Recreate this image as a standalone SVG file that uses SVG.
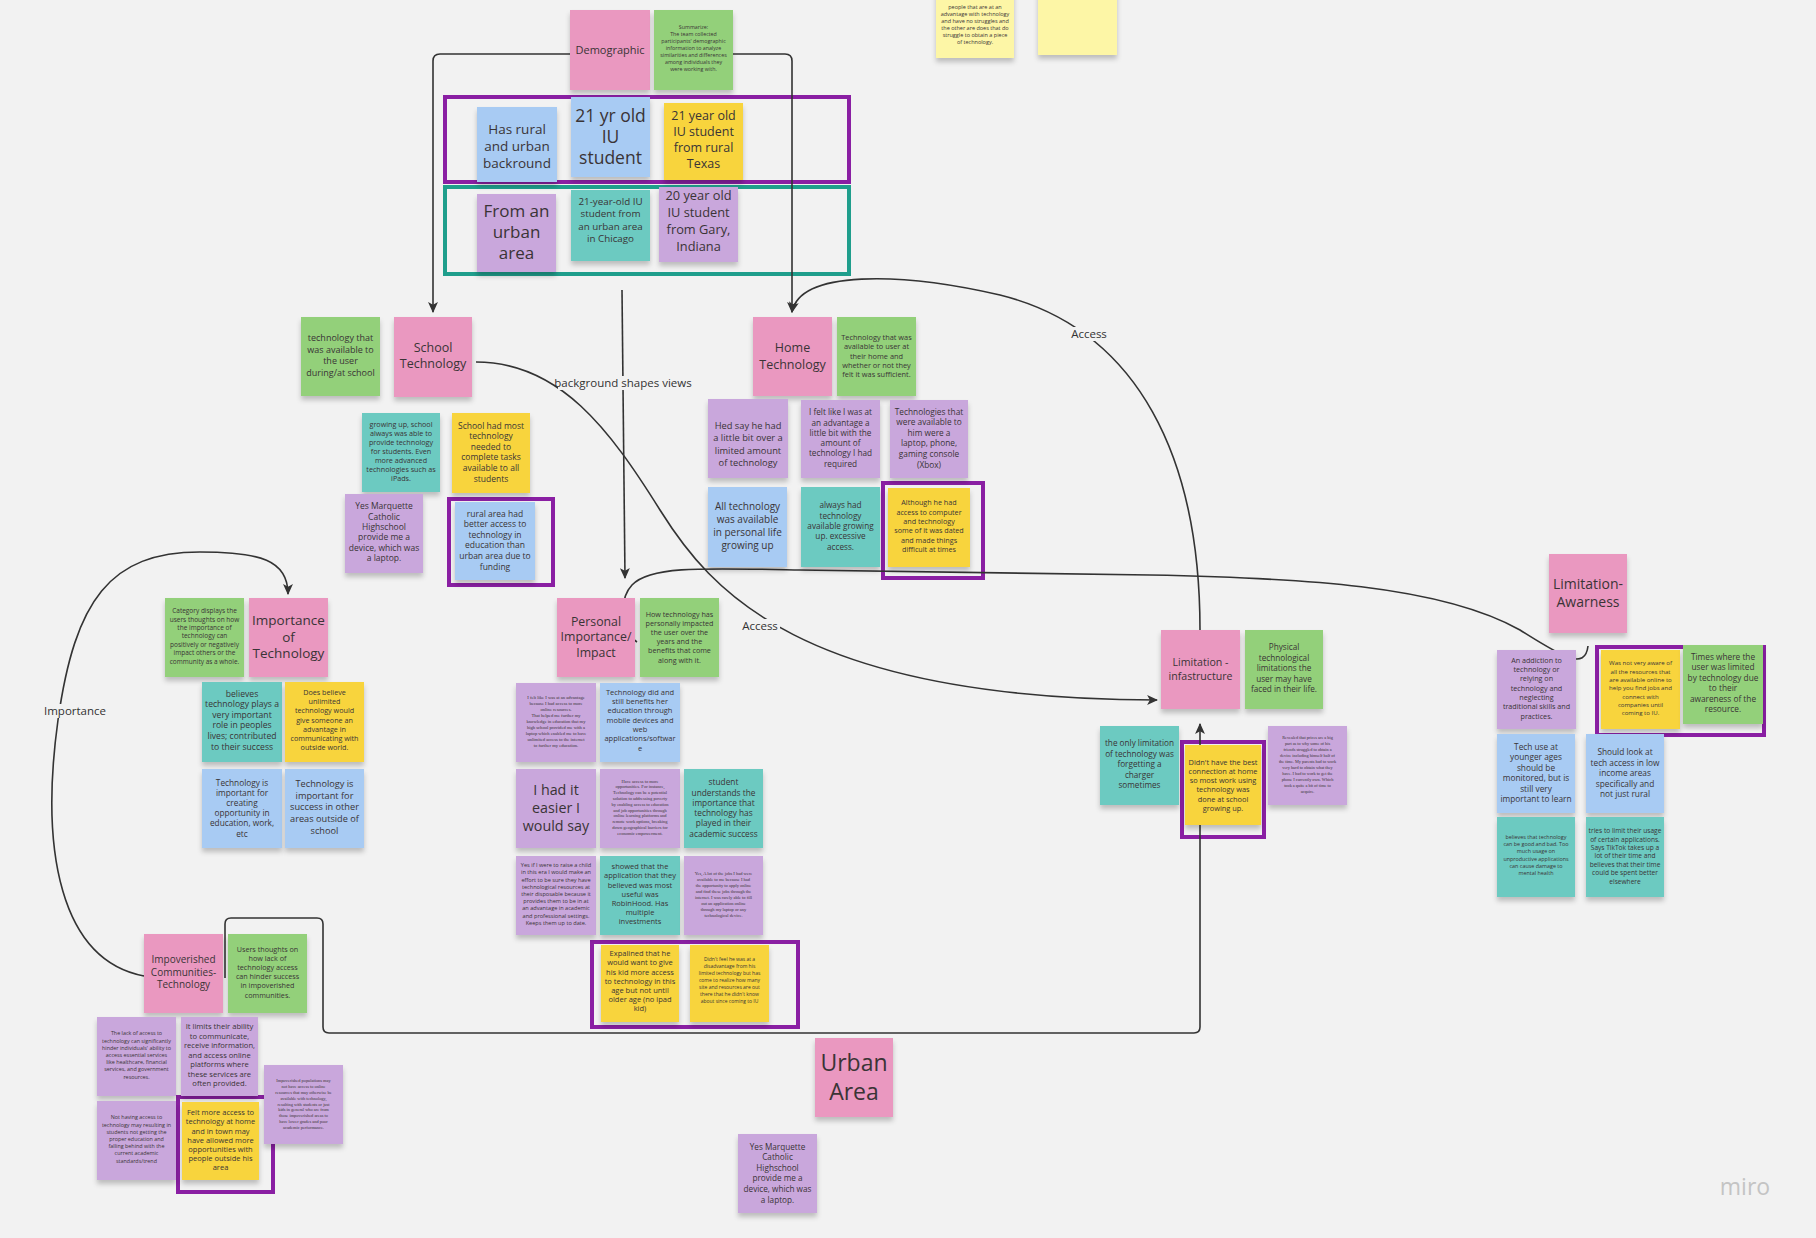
<svg xmlns="http://www.w3.org/2000/svg" width="1816" height="1238" viewBox="0 0 1816 1238">
<style>
.n{filter:url(#sh)}
.pk{fill:#ea98c0}.gr{fill:#93d07a}.bl{fill:#a8cbf3}.ye{fill:#f8d43c}.pu{fill:#c9a7dc}.te{fill:#6ccac1}.ly{fill:#fdf6a6}
text{font-family:"Open Sans","Noto Sans","Liberation Sans",sans-serif;fill:#3a3436;text-anchor:middle}
.sf{font-family:"Liberation Serif","DejaVu Serif",serif}
.fr{fill:none;stroke-width:4}
.fp{stroke:#8a1fa3}.ft{stroke:#1f9e8c}
.c{fill:none;stroke:#333;stroke-width:1.6}
.lb{font-size:11.5px;fill:#333}
.lbg{fill:#f2f2f2}
</style>
<defs>
<filter id="sh" x="-10%" y="-10%" width="120%" height="130%"><feDropShadow dx="0" dy="4" stdDeviation="2.5" flood-color="#000" flood-opacity="0.22"/></filter>
<marker id="ah" viewBox="0 0 10 10" refX="9" refY="5" markerWidth="11" markerHeight="11" markerUnits="userSpaceOnUse" orient="auto"><path d="M0,0.5 L10,5 L0,9.5 L2.5,5 z" fill="#333"/></marker>
</defs>
<rect width="1816" height="1238" fill="#f2f2f2"/>

<g id="frames">
<rect class="fr fp" x="445" y="97" width="404" height="85"/>
<rect class="fr ft" x="445" y="187" width="404" height="87"/>
<rect class="fr fp" x="449" y="499" width="104" height="86"/>
<rect class="fr fp" x="883" y="483" width="100" height="95"/>
<rect class="fr fp" x="592" y="942" width="206" height="85"/>
<rect class="fr fp" x="178" y="1097" width="95" height="95"/>
<rect class="fr fp" x="1182" y="742" width="82" height="95"/>
<rect class="fr fp" x="1597" y="647" width="167" height="88"/>
</g>

<g id="connectors">
<path class="c" d="M570,54 L440,54 Q433,54 433,61 L433,312" marker-end="url(#ah)"/>
<path class="c" d="M733,54 L785,54 Q792,54 792,61 L792,312" marker-end="url(#ah)"/>
<path class="c" d="M622,290 L625,578" marker-end="url(#ah)"/>
<path class="c" d="M476,362 C560,362 610,430 660,510 C710,590 800,699 1157,700" marker-end="url(#ah)"/>
<path class="c" d="M1200,630 C1200,460 1140,330 1000,295 C900,272 800,270 792,312" marker-end="url(#ah)"/>
<path class="c" d="M637,642 C622,632 618,600 632,585 C650,566 700,568 800,570 L1150,575 C1300,578 1440,585 1520,630 C1560,655 1585,672 1588,646"/>
<path class="c" d="M144,976 C60,960 40,850 58,720 C75,600 110,552 200,552 C260,552 288,560 288,594" marker-end="url(#ah)"/>
<path class="c" d="M225,978 L225,924 Q225,918 231,918 L317,918 Q323,918 323,924 L323,1027 Q323,1033 329,1033 L1194,1033 Q1200,1033 1200,1027 L1200,724" marker-end="url(#ah)"/>
<rect class="lbg" x="558" y="376" width="132" height="14"/>
<text class="lb" x="623" y="387">background shapes views</text>
<rect class="lbg" x="740" y="619" width="40" height="14"/>
<text class="lb" x="760" y="630">Access</text>
<rect class="lbg" x="1069" y="327" width="40" height="14"/>
<text class="lb" x="1089" y="338">Access</text>
<rect class="lbg" x="43" y="704" width="64" height="14"/>
<text class="lb" x="75" y="715">Importance</text>
</g>

<g id="demographic"><rect class="n pk" x="570" y="10" width="80" height="80"/><text x="610" y="54" font-size="11">Demographic</text></g>
<g id="demographic-summary"><rect class="n gr" x="654" y="10" width="79" height="80"/><text font-size="5.3"><tspan x="693.5" y="28.9">Summarize:</tspan><tspan x="693.5" dy="7">The team collected</tspan><tspan x="693.5" dy="7">participants' demographic</tspan><tspan x="693.5" dy="7">information to analyze</tspan><tspan x="693.5" dy="7">similarities and differences</tspan><tspan x="693.5" dy="7">among individuals they</tspan><tspan x="693.5" dy="7">were working with.</tspan></text></g>
<g id="rural-urban"><rect class="n bl" x="477" y="107" width="80" height="75"/><text font-size="13.5"><tspan x="517" y="133.9">Has rural</tspan><tspan x="517" dy="17">and urban</tspan><tspan x="517" dy="17">backround</tspan></text></g>
<g id="iu-21"><rect class="n bl" x="571" y="97" width="79" height="80"/><text font-size="17.5"><tspan x="610.5" y="122.3">21 yr old</tspan><tspan x="610.5" dy="21">IU</tspan><tspan x="610.5" dy="21">student</tspan></text></g>
<g id="texas"><rect class="n ye" x="664" y="103" width="79" height="77"/><text font-size="12.5"><tspan x="703.5" y="120.4">21 year old</tspan><tspan x="703.5" dy="16">IU student</tspan><tspan x="703.5" dy="16">from rural</tspan><tspan x="703.5" dy="16">Texas</tspan></text></g>
<g id="urban-area-note"><rect class="n pu" x="477" y="194" width="79" height="78"/><text font-size="17"><tspan x="516.5" y="217">From an</tspan><tspan x="516.5" dy="21">urban</tspan><tspan x="516.5" dy="21">area</tspan></text></g>
<g id="chicago"><rect class="n te" x="571" y="190" width="79" height="71"/><text font-size="9.8"><tspan x="610.5" y="204.5">21-year-old IU</tspan><tspan x="610.5" dy="12.6">student from</tspan><tspan x="610.5" dy="12.6">an urban area</tspan><tspan x="610.5" dy="12.6">in Chicago</tspan></text></g>
<g id="gary"><rect class="n pu" x="659" y="187" width="79" height="75"/><text font-size="12.8"><tspan x="698.5" y="200.3">20 year old</tspan><tspan x="698.5" dy="16.8">IU student</tspan><tspan x="698.5" dy="16.8">from Gary,</tspan><tspan x="698.5" dy="16.8">Indiana</tspan></text></g>

<g id="top-note-1"><rect class="n ly" x="936" y="-22" width="78" height="80"/><text font-size="5.5"><tspan x="975" y="9">people that are at an</tspan><tspan x="975" dy="7">advantage with technology</tspan><tspan x="975" dy="7">and have no struggles and</tspan><tspan x="975" dy="7">the other are does that do</tspan><tspan x="975" dy="7">struggle to obtain a piece</tspan><tspan x="975" dy="7">of technology.</tspan></text></g>
<g id="top-note-2"><rect class="n ly" x="1038" y="-25" width="79" height="80"/></g>

<g id="school-desc"><rect class="n gr" x="301" y="317" width="79" height="79"/><text font-size="9"><tspan x="340.5" y="340.8">technology that</tspan><tspan x="340.5" dy="11.7">was available to</tspan><tspan x="340.5" dy="11.7">the user</tspan><tspan x="340.5" dy="11.7">during/at school</tspan></text></g>
<g id="school-technology"><rect class="n pk" x="394" y="317" width="78" height="80"/><text font-size="12.5"><tspan x="433" y="352.4">School</tspan><tspan x="433" dy="16">Technology</tspan></text></g>
<g id="school-1"><rect class="n te" x="362" y="413" width="78" height="79"/><text font-size="7.2"><tspan x="401" y="426.6">growing up, school</tspan><tspan x="401" dy="9">always was able to</tspan><tspan x="401" dy="9">provide technology</tspan><tspan x="401" dy="9">for students. Even</tspan><tspan x="401" dy="9">more advanced</tspan><tspan x="401" dy="9">technologies such as</tspan><tspan x="401" dy="9">iPads.</tspan></text></g>
<g id="school-2"><rect class="n ye" x="452" y="413" width="78" height="80"/><text font-size="8.5"><tspan x="491" y="428.6">School had most</tspan><tspan x="491" dy="10.6">technology</tspan><tspan x="491" dy="10.6">needed to</tspan><tspan x="491" dy="10.6">complete tasks</tspan><tspan x="491" dy="10.6">available to all</tspan><tspan x="491" dy="10.6">students</tspan></text></g>
<g id="school-3"><rect class="n pu" x="345" y="494" width="78" height="79"/><text font-size="8.5"><tspan x="384" y="509.1">Yes Marquette</tspan><tspan x="384" dy="10.4">Catholic</tspan><tspan x="384" dy="10.4">Highschool</tspan><tspan x="384" dy="10.4">provide me a</tspan><tspan x="384" dy="10.4">device, which was</tspan><tspan x="384" dy="10.4">a laptop.</tspan></text></g>
<g id="school-4"><rect class="n bl" x="455" y="502" width="80" height="78"/><text font-size="8.5"><tspan x="495" y="516.6">rural area had</tspan><tspan x="495" dy="10.6">better access to</tspan><tspan x="495" dy="10.6">technology in</tspan><tspan x="495" dy="10.6">education than</tspan><tspan x="495" dy="10.6">urban area due to</tspan><tspan x="495" dy="10.6">funding</tspan></text></g>

<g id="home-technology"><rect class="n pk" x="753" y="317" width="79" height="79"/><text font-size="12.5"><tspan x="792.5" y="352.1">Home</tspan><tspan x="792.5" dy="16.5">Technology</tspan></text></g>
<g id="home-desc"><rect class="n gr" x="837" y="317" width="79" height="79"/><text font-size="7.4"><tspan x="876.5" y="340.1">Technology that was</tspan><tspan x="876.5" dy="9.3">available to user at</tspan><tspan x="876.5" dy="9.3">their home and</tspan><tspan x="876.5" dy="9.3">whether or not they</tspan><tspan x="876.5" dy="9.3">felt it was sufficient.</tspan></text></g>
<g id="home-1"><rect class="n pu" x="708" y="399" width="80" height="79"/><text font-size="9.3"><tspan x="748" y="428.9">Hed say he had</tspan><tspan x="748" dy="12.3">a little bit over a</tspan><tspan x="748" dy="12.3">limited amount</tspan><tspan x="748" dy="12.3">of technology</tspan></text></g>
<g id="home-2"><rect class="n pu" x="801" y="400" width="79" height="78"/><text font-size="8.2"><tspan x="840.5" y="415.2">I felt like I was at</tspan><tspan x="840.5" dy="10.3">an advantage a</tspan><tspan x="840.5" dy="10.3">little bit with the</tspan><tspan x="840.5" dy="10.3">amount of</tspan><tspan x="840.5" dy="10.3">technology I had</tspan><tspan x="840.5" dy="10.3">required</tspan></text></g>
<g id="home-3"><rect class="n pu" x="890" y="400" width="78" height="78"/><text font-size="8.3"><tspan x="929" y="414.5">Technologies that</tspan><tspan x="929" dy="10.6">were available to</tspan><tspan x="929" dy="10.6">him were a</tspan><tspan x="929" dy="10.6">laptop, phone,</tspan><tspan x="929" dy="10.6">gaming console</tspan><tspan x="929" dy="10.6">(Xbox)</tspan></text></g>
<g id="home-4"><rect class="n bl" x="708" y="487" width="79" height="80"/><text font-size="10"><tspan x="747.5" y="510.4">All technology</tspan><tspan x="747.5" dy="12.7">was available</tspan><tspan x="747.5" dy="12.7">in personal life</tspan><tspan x="747.5" dy="12.7">growing up</tspan></text></g>
<g id="home-5"><rect class="n te" x="801" y="487" width="79" height="80"/><text font-size="8.2"><tspan x="840.5" y="508.2">always had</tspan><tspan x="840.5" dy="10.4">technology</tspan><tspan x="840.5" dy="10.4">available growing</tspan><tspan x="840.5" dy="10.4">up. excessive</tspan><tspan x="840.5" dy="10.4">access.</tspan></text></g>
<g id="home-6"><rect class="n ye" x="888" y="488" width="82" height="79"/><text font-size="7.2"><tspan x="929" y="505.4">Although he had</tspan><tspan x="929" dy="9.3">access to computer</tspan><tspan x="929" dy="9.3">and technology</tspan><tspan x="929" dy="9.3">some of it was dated</tspan><tspan x="929" dy="9.3">and made things</tspan><tspan x="929" dy="9.3">difficult at times</tspan></text></g>

<g id="importance-desc"><rect class="n gr" x="165" y="598" width="79" height="79"/><text font-size="6.5"><tspan x="204.5" y="613.2">Category displays the</tspan><tspan x="204.5" dy="8.4">users thoughts on how</tspan><tspan x="204.5" dy="8.4">the importance of</tspan><tspan x="204.5" dy="8.4">technology can</tspan><tspan x="204.5" dy="8.4">positively or negatively</tspan><tspan x="204.5" dy="8.4">impact others or the</tspan><tspan x="204.5" dy="8.4">community as a whole.</tspan></text></g>
<g id="importance-of-technology"><rect class="n pk" x="249" y="598" width="79" height="79"/><text font-size="13.5"><tspan x="288.5" y="625.1">Importance</tspan><tspan x="288.5" dy="16.6">of</tspan><tspan x="288.5" dy="16.6">Technology</tspan></text></g>
<g id="imp-1"><rect class="n te" x="202" y="682" width="80" height="80"/><text font-size="8.6"><tspan x="242" y="696.6">believes</tspan><tspan x="242" dy="10.6">technology plays a</tspan><tspan x="242" dy="10.6">very important</tspan><tspan x="242" dy="10.6">role in peoples</tspan><tspan x="242" dy="10.6">lives; contributed</tspan><tspan x="242" dy="10.6">to their success</tspan></text></g>
<g id="imp-2"><rect class="n ye" x="285" y="682" width="79" height="80"/><text font-size="7.2"><tspan x="324.5" y="695">Does believe</tspan><tspan x="324.5" dy="9.2">unlimited</tspan><tspan x="324.5" dy="9.2">technology would</tspan><tspan x="324.5" dy="9.2">give someone an</tspan><tspan x="324.5" dy="9.2">advantage in</tspan><tspan x="324.5" dy="9.2">communicating with</tspan><tspan x="324.5" dy="9.2">outside world.</tspan></text></g>
<g id="imp-3"><rect class="n bl" x="202" y="769" width="80" height="79"/><text font-size="8.3"><tspan x="242" y="785.5">Technology is</tspan><tspan x="242" dy="10.2">important for</tspan><tspan x="242" dy="10.2">creating</tspan><tspan x="242" dy="10.2">opportunity in</tspan><tspan x="242" dy="10.2">education, work,</tspan><tspan x="242" dy="10.2">etc</tspan></text></g>
<g id="imp-4"><rect class="n bl" x="285" y="769" width="79" height="79"/><text font-size="9.2"><tspan x="324.5" y="787">Technology is</tspan><tspan x="324.5" dy="11.7">important for</tspan><tspan x="324.5" dy="11.7">success in other</tspan><tspan x="324.5" dy="11.7">areas outside of</tspan><tspan x="324.5" dy="11.7">school</tspan></text></g>

<g id="personal-importance"><rect class="n pk" x="557" y="598" width="78" height="79"/><text font-size="12.3"><tspan x="596" y="626">Personal</tspan><tspan x="596" dy="15.3">Importance/</tspan><tspan x="596" dy="15.3">Impact</tspan></text></g>
<g id="personal-desc"><rect class="n gr" x="640" y="598" width="79" height="79"/><text font-size="7.2"><tspan x="679.5" y="616.6">How technology has</tspan><tspan x="679.5" dy="9.2">personally impacted</tspan><tspan x="679.5" dy="9.2">the user over the</tspan><tspan x="679.5" dy="9.2">years and the</tspan><tspan x="679.5" dy="9.2">benefits that come</tspan><tspan x="679.5" dy="9.2">along with it.</tspan></text></g>
<g id="pers-1"><rect class="n pu" x="516" y="683" width="80" height="79"/><text class="sf" font-size="4.6"><tspan x="556" y="698.6">I felt like I was at an advantage</tspan><tspan x="556" dy="6">because I had access to more</tspan><tspan x="556" dy="6">online resources.</tspan><tspan x="556" dy="6">That helped me further my</tspan><tspan x="556" dy="6">knowledge in education that my</tspan><tspan x="556" dy="6">high school provided me with a</tspan><tspan x="556" dy="6">laptop which enabled me to have</tspan><tspan x="556" dy="6">unlimited access to the internet</tspan><tspan x="556" dy="6">to further my education.</tspan></text></g>
<g id="pers-2"><rect class="n bl" x="600" y="683" width="80" height="79"/><text font-size="7.5"><tspan x="640" y="694.8">Technology did and</tspan><tspan x="640" dy="9.3">still benefits her</tspan><tspan x="640" dy="9.3">education through</tspan><tspan x="640" dy="9.3">mobile devices and</tspan><tspan x="640" dy="9.3">web</tspan><tspan x="640" dy="9.3">applications/softwar</tspan><tspan x="640" dy="9.3">e</tspan></text></g>
<g id="pers-3"><rect class="n pu" x="516" y="769" width="80" height="79"/><text font-size="14.3"><tspan x="556" y="794.7">I had it</tspan><tspan x="556" dy="18.3">easier I</tspan><tspan x="556" dy="18.3">would say</tspan></text></g>
<g id="pers-4"><rect class="n pu" x="600" y="769" width="80" height="79"/><text class="sf" font-size="4.5"><tspan x="640" y="782.5">Have access to more</tspan><tspan x="640" dy="5.8">opportunities. For instance,</tspan><tspan x="640" dy="5.8">Technology can be a potential</tspan><tspan x="640" dy="5.8">solution to addressing poverty</tspan><tspan x="640" dy="5.8">by enabling access to education</tspan><tspan x="640" dy="5.8">and job opportunities through</tspan><tspan x="640" dy="5.8">online learning platforms and</tspan><tspan x="640" dy="5.8">remote work options, breaking</tspan><tspan x="640" dy="5.8">down geographical barriers for</tspan><tspan x="640" dy="5.8">economic empowerment.</tspan></text></g>
<g id="pers-5"><rect class="n te" x="684" y="769" width="79" height="79"/><text font-size="8.3"><tspan x="723.5" y="785.2">student</tspan><tspan x="723.5" dy="10.3">understands the</tspan><tspan x="723.5" dy="10.3">importance that</tspan><tspan x="723.5" dy="10.3">technology has</tspan><tspan x="723.5" dy="10.3">played in their</tspan><tspan x="723.5" dy="10.3">academic success</tspan></text></g>
<g id="pers-6"><rect class="n pu" x="516" y="856" width="80" height="79"/><text font-size="5.6"><tspan x="556" y="867.2">Yes if I were to raise a child</tspan><tspan x="556" dy="7.2">in this era I would make an</tspan><tspan x="556" dy="7.2">effort to be sure they have</tspan><tspan x="556" dy="7.2">technological resources at</tspan><tspan x="556" dy="7.2">their disposable because it</tspan><tspan x="556" dy="7.2">provides them to be in at</tspan><tspan x="556" dy="7.2">an advantage in academic</tspan><tspan x="556" dy="7.2">and professional settings.</tspan><tspan x="556" dy="7.2">Keeps them up to date.</tspan></text></g>
<g id="pers-7"><rect class="n te" x="600" y="856" width="80" height="79"/><text font-size="7.5"><tspan x="640" y="869.1">showed that the</tspan><tspan x="640" dy="9.2">application that they</tspan><tspan x="640" dy="9.2">believed was most</tspan><tspan x="640" dy="9.2">useful was</tspan><tspan x="640" dy="9.2">RobinHood. Has</tspan><tspan x="640" dy="9.2">multiple</tspan><tspan x="640" dy="9.2">investments</tspan></text></g>
<g id="pers-8"><rect class="n pu" x="684" y="856" width="79" height="79"/><text class="sf" font-size="4.5"><tspan x="723.5" y="874.6">Yes,  A lot of the jobs I had were</tspan><tspan x="723.5" dy="6">available to me because I had</tspan><tspan x="723.5" dy="6">the opportunity to apply online</tspan><tspan x="723.5" dy="6">and find these jobs through the</tspan><tspan x="723.5" dy="6">internet. I was rarely able to fill</tspan><tspan x="723.5" dy="6">out an application online</tspan><tspan x="723.5" dy="6">through my laptop or any</tspan><tspan x="723.5" dy="6">technological device.</tspan></text></g>
<g id="pers-9"><rect class="n ye" x="601" y="945" width="78" height="77"/><text font-size="7.5"><tspan x="640" y="956.1">Expalined that he</tspan><tspan x="640" dy="9.2">would want to give</tspan><tspan x="640" dy="9.2">his kid more access</tspan><tspan x="640" dy="9.2">to technology in this</tspan><tspan x="640" dy="9.2">age but not until</tspan><tspan x="640" dy="9.2">older age (no ipad</tspan><tspan x="640" dy="9.2">kid)</tspan></text></g>
<g id="pers-10"><rect class="n ye" x="690" y="945" width="79" height="77"/><text font-size="5"><tspan x="729.5" y="960.5">Didn't feel he was at a</tspan><tspan x="729.5" dy="7.1">disadvantage from his</tspan><tspan x="729.5" dy="7.1">limited technology but has</tspan><tspan x="729.5" dy="7.1">come to realize how many</tspan><tspan x="729.5" dy="7.1">site and resources are out</tspan><tspan x="729.5" dy="7.1">there that he didn't know</tspan><tspan x="729.5" dy="7.1">about since coming to IU</tspan></text></g>

<g id="impoverished-communities"><rect class="n pk" x="144" y="934" width="79" height="79"/><text font-size="10"><tspan x="183.5" y="963.3">Impoverished</tspan><tspan x="183.5" dy="12.3">Communities-</tspan><tspan x="183.5" dy="12.3">Technology</tspan></text></g>
<g id="impov-desc"><rect class="n gr" x="228" y="934" width="79" height="79"/><text font-size="7.2"><tspan x="267.5" y="951.6">Users thoughts on</tspan><tspan x="267.5" dy="9.2">how lack of</tspan><tspan x="267.5" dy="9.2">technology access</tspan><tspan x="267.5" dy="9.2">can hinder success</tspan><tspan x="267.5" dy="9.2">in impoverished</tspan><tspan x="267.5" dy="9.2">communities.</tspan></text></g>
<g id="impov-1"><rect class="n pu" x="97" y="1017" width="79" height="79"/><text font-size="5.4"><tspan x="136.5" y="1035.4">The lack of access to</tspan><tspan x="136.5" dy="7.2">technology can significantly</tspan><tspan x="136.5" dy="7.2">hinder individuals' ability to</tspan><tspan x="136.5" dy="7.2">access essential services</tspan><tspan x="136.5" dy="7.2">like healthcare, financial</tspan><tspan x="136.5" dy="7.2">services, and government</tspan><tspan x="136.5" dy="7.2">resources.</tspan></text></g>
<g id="impov-2"><rect class="n pu" x="181" y="1017" width="77" height="79"/><text font-size="7.6"><tspan x="219.5" y="1029.3">It limits their ability</tspan><tspan x="219.5" dy="9.5">to communicate,</tspan><tspan x="219.5" dy="9.5">receive information,</tspan><tspan x="219.5" dy="9.5">and access online</tspan><tspan x="219.5" dy="9.5">platforms where</tspan><tspan x="219.5" dy="9.5">these services are</tspan><tspan x="219.5" dy="9.5">often provided.</tspan></text></g>
<g id="impov-3"><rect class="n pu" x="97" y="1101" width="79" height="79"/><text font-size="5.4"><tspan x="136.5" y="1119.4">Not having access to</tspan><tspan x="136.5" dy="7.2">technology may resulting in</tspan><tspan x="136.5" dy="7.2">students not getting the</tspan><tspan x="136.5" dy="7.2">proper education and</tspan><tspan x="136.5" dy="7.2">falling behind with the</tspan><tspan x="136.5" dy="7.2">current academic</tspan><tspan x="136.5" dy="7.2">standards/trend</tspan></text></g>
<g id="impov-4"><rect class="n ye" x="182" y="1102" width="77" height="78"/><text font-size="7.5"><tspan x="220.5" y="1115.1">Felt more access to</tspan><tspan x="220.5" dy="9.2">technology at home</tspan><tspan x="220.5" dy="9.2">and in town may</tspan><tspan x="220.5" dy="9.2">have allowed more</tspan><tspan x="220.5" dy="9.2">opportunities with</tspan><tspan x="220.5" dy="9.2">people outside his</tspan><tspan x="220.5" dy="9.2">area</tspan></text></g>
<g id="impov-5"><rect class="n pu" x="264" y="1065" width="79" height="79"/><text class="sf" font-size="4.4"><tspan x="303.5" y="1081.9">Impoverished populations may</tspan><tspan x="303.5" dy="5.9">not have access to online</tspan><tspan x="303.5" dy="5.9">resources that may otherwise be</tspan><tspan x="303.5" dy="5.9">available with technology,</tspan><tspan x="303.5" dy="5.9">resulting with students or just</tspan><tspan x="303.5" dy="5.9">kids in general who are from</tspan><tspan x="303.5" dy="5.9">those impoverished areas to</tspan><tspan x="303.5" dy="5.9">have lower grades and poor</tspan><tspan x="303.5" dy="5.9">academic performance.</tspan></text></g>

<g id="limitation-infrastructure"><rect class="n pk" x="1161" y="630" width="79" height="79"/><text font-size="10.6"><tspan x="1200.5" y="665.7">Limitation -</tspan><tspan x="1200.5" dy="14">infastructure</tspan></text></g>
<g id="lim-desc"><rect class="n gr" x="1245" y="630" width="78" height="79"/><text font-size="8.2"><tspan x="1284" y="650">Physical</tspan><tspan x="1284" dy="10.5">technological</tspan><tspan x="1284" dy="10.5">limitations the</tspan><tspan x="1284" dy="10.5">user may have</tspan><tspan x="1284" dy="10.5">faced in their life.</tspan></text></g>
<g id="lim-1"><rect class="n te" x="1100" y="726" width="79" height="79"/><text font-size="8.2"><tspan x="1139.5" y="746">the only limitation</tspan><tspan x="1139.5" dy="10.5">of technology was</tspan><tspan x="1139.5" dy="10.5">forgetting a</tspan><tspan x="1139.5" dy="10.5">charger</tspan><tspan x="1139.5" dy="10.5">sometimes</tspan></text></g>
<g id="lim-2"><rect class="n ye" x="1185" y="745" width="76" height="80"/><text font-size="7.4"><tspan x="1223" y="764.7">Didn't have the best</tspan><tspan x="1223" dy="9.2">connection at home</tspan><tspan x="1223" dy="9.2">so most work using</tspan><tspan x="1223" dy="9.2">technology was</tspan><tspan x="1223" dy="9.2">done at school</tspan><tspan x="1223" dy="9.2">growing up.</tspan></text></g>
<g id="lim-3"><rect class="n pu" x="1268" y="726" width="79" height="79"/><text class="sf" font-size="4.3"><tspan x="1307.5" y="738.5">Revealed that prices are a big</tspan><tspan x="1307.5" dy="6">part as to why some of his</tspan><tspan x="1307.5" dy="6">friends struggled to obtain a</tspan><tspan x="1307.5" dy="6">device including himself half of</tspan><tspan x="1307.5" dy="6">the time. My parents had to work</tspan><tspan x="1307.5" dy="6">very hard to obtain what they</tspan><tspan x="1307.5" dy="6">have. I had to work to get the</tspan><tspan x="1307.5" dy="6">phone I currently own. Which</tspan><tspan x="1307.5" dy="6">took a quite a bit of time to</tspan><tspan x="1307.5" dy="6">acquire.</tspan></text></g>

<g id="limitation-awareness"><rect class="n pk" x="1549" y="554" width="78" height="79"/><text font-size="14"><tspan x="1588" y="589.1">Limitation-</tspan><tspan x="1588" dy="17.5">Awarness</tspan></text></g>
<g id="aw-1"><rect class="n pu" x="1497" y="650" width="79" height="79"/><text font-size="7.2"><tspan x="1536.5" y="662.7">An addiction to</tspan><tspan x="1536.5" dy="9.3">technology or</tspan><tspan x="1536.5" dy="9.3">relying on</tspan><tspan x="1536.5" dy="9.3">technology and</tspan><tspan x="1536.5" dy="9.3">neglecting</tspan><tspan x="1536.5" dy="9.3">traditional skills and</tspan><tspan x="1536.5" dy="9.3">practices.</tspan></text></g>
<g id="aw-2"><rect class="n ye" x="1601" y="650" width="79" height="79"/><text font-size="6.1"><tspan x="1640.5" y="665.3">Was not very aware of</tspan><tspan x="1640.5" dy="8.3">all the resources that</tspan><tspan x="1640.5" dy="8.3">are available online to</tspan><tspan x="1640.5" dy="8.3">help you find jobs and</tspan><tspan x="1640.5" dy="8.3">connect with</tspan><tspan x="1640.5" dy="8.3">companies until</tspan><tspan x="1640.5" dy="8.3">coming to IU.</tspan></text></g>
<g id="aw-desc"><rect class="n gr" x="1683" y="645" width="80" height="79"/><text font-size="8.3"><tspan x="1723" y="660">Times where the</tspan><tspan x="1723" dy="10.4">user was limited</tspan><tspan x="1723" dy="10.4">by technology due</tspan><tspan x="1723" dy="10.4">to their</tspan><tspan x="1723" dy="10.4">awareness of the</tspan><tspan x="1723" dy="10.4">resource.</tspan></text></g>
<g id="aw-3"><rect class="n bl" x="1497" y="734" width="78" height="79"/><text font-size="8.3"><tspan x="1536" y="750">Tech use at</tspan><tspan x="1536" dy="10.4">younger ages</tspan><tspan x="1536" dy="10.4">should be</tspan><tspan x="1536" dy="10.4">monitored, but is</tspan><tspan x="1536" dy="10.4">still very</tspan><tspan x="1536" dy="10.4">important to learn</tspan></text></g>
<g id="aw-4"><rect class="n bl" x="1586" y="734" width="78" height="79"/><text font-size="8.3"><tspan x="1625" y="755">Should look at</tspan><tspan x="1625" dy="10.5">tech access in low</tspan><tspan x="1625" dy="10.5">income areas</tspan><tspan x="1625" dy="10.5">specifically and</tspan><tspan x="1625" dy="10.5">not just rural</tspan></text></g>
<g id="aw-5"><rect class="n te" x="1497" y="817" width="78" height="80"/><text font-size="5.4"><tspan x="1536" y="839">believes that technology</tspan><tspan x="1536" dy="7.2">can be good and bad. Too</tspan><tspan x="1536" dy="7.2">much usage on</tspan><tspan x="1536" dy="7.2">unproductive applications</tspan><tspan x="1536" dy="7.2">can cause damage to</tspan><tspan x="1536" dy="7.2">mental health</tspan></text></g>
<g id="aw-6"><rect class="n te" x="1586" y="817" width="78" height="80"/><text font-size="6.6"><tspan x="1625" y="833.2">tries to limit their usage</tspan><tspan x="1625" dy="8.4">of certain applications.</tspan><tspan x="1625" dy="8.4">Says TikTok takes up a</tspan><tspan x="1625" dy="8.4">lot of their time and</tspan><tspan x="1625" dy="8.4">believes that their time</tspan><tspan x="1625" dy="8.4">could be spent better</tspan><tspan x="1625" dy="8.4">elsewhere</tspan></text></g>

<g id="urban-area"><rect class="n pk" x="815" y="1038" width="78" height="79"/><text font-size="23"><tspan x="854" y="1070.5">Urban</tspan><tspan x="854" dy="29">Area</tspan></text></g>
<g id="urban-1"><rect class="n pu" x="738" y="1134" width="79" height="79"/><text font-size="8.2"><tspan x="777.5" y="1149.5">Yes Marquette</tspan><tspan x="777.5" dy="10.6">Catholic</tspan><tspan x="777.5" dy="10.6">Highschool</tspan><tspan x="777.5" dy="10.6">provide me a</tspan><tspan x="777.5" dy="10.6">device, which was</tspan><tspan x="777.5" dy="10.6">a laptop.</tspan></text></g>

<text x="1745" y="1195" font-size="23" style="fill:#c4c4c4">miro</text>
</svg>
